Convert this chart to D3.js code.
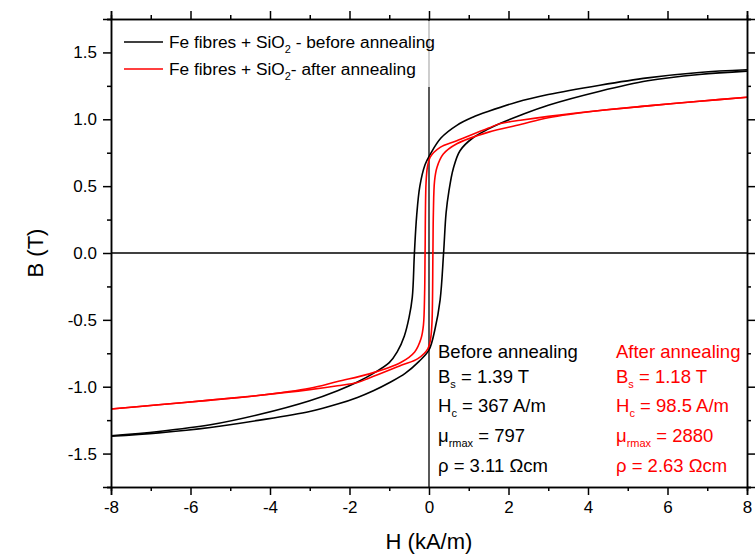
<!DOCTYPE html>
<html>
<head>
<meta charset="utf-8">
<script src="https://cdn.jsdelivr.net/npm/d3@7"></script>
<style>
  body { margin: 0; background: #fff; }
  svg { font-family: "Liberation Sans", Arial, sans-serif; }
  .axis path, .axis line { stroke: #000; stroke-width: 1.5; }
  .axis text { font-size: 17px; fill: #000; }
</style>
</head>
<body>
<div id="chart"></div>
<script>
// hysteresis loops, H in kA/m, B in T
var blackDown = [[8, 1.37], [6.8, 1.35], [5.5, 1.31], [4.3, 1.255], [3.0, 1.185], [2.2, 1.128], [1.5, 1.06],
  [1.1, 1.015], [0.7, 0.955], [0.3, 0.86], [0.03, 0.738], [-0.1, 0.66], [-0.23, 0.5], [-0.31, 0.28],
  [-0.367, 0], [-0.42, -0.33], [-0.5, -0.48], [-0.62, -0.62], [-0.8, -0.74], [-1.0, -0.82], [-1.4, -0.9],
  [-1.8, -0.965], [-2.3, -1.03], [-3.0, -1.105], [-4.3, -1.21], [-5.5, -1.285], [-6.8, -1.335], [-8, -1.367]];
var blackUp = [[-8, -1.37], [-6.8, -1.345], [-5.5, -1.305], [-4.3, -1.252], [-3.0, -1.185], [-2.3, -1.13],
  [-1.8, -1.08], [-1.4, -1.03], [-1.0, -0.97], [-0.6, -0.9], [-0.25, -0.81], [0.0, -0.725], [0.15, -0.57],
  [0.28, -0.35], [0.367, 0], [0.43, 0.3], [0.5, 0.46], [0.61, 0.63], [0.78, 0.765], [1.1, 0.86], [1.5, 0.928],
  [1.8, 0.97], [2.3, 1.03], [3.0, 1.105], [4.3, 1.21], [5.5, 1.288], [6.8, 1.335], [8, 1.36]];
var redDown = [[8, 1.165], [6.8, 1.135], [5.5, 1.1], [4.3, 1.066], [3.0, 1.022], [2.3, 0.993], [1.8, 0.968],
  [1.5, 0.935], [0.7, 0.84], [0.28, 0.79], [0.03, 0.717], [-0.04, 0.642], [-0.075, 0.52], [-0.0985, 0],
  [-0.11, -0.3], [-0.14, -0.54], [-0.2, -0.64], [-0.36, -0.74], [-0.7, -0.817], [-1.5, -0.904], [-2.3, -0.961],
  [-3.0, -1.012], [-4.3, -1.066], [-5.5, -1.1], [-6.8, -1.135], [-8, -1.167]];
var redUp = [[-8, -1.167], [-6.8, -1.135], [-5.5, -1.1], [-4.3, -1.066], [-3.0, -1.022], [-2.3, -0.993],
  [-1.8, -0.968], [-1.5, -0.935], [-0.7, -0.84], [-0.28, -0.79], [-0.03, -0.717], [0.04, -0.642], [0.075, -0.52],
  [0.0985, 0], [0.11, 0.3], [0.14, 0.54], [0.2, 0.64], [0.36, 0.74], [0.7, 0.817], [1.5, 0.904], [2.3, 0.961],
  [3.0, 1.012], [4.3, 1.066], [5.5, 1.1], [6.8, 1.135], [8, 1.165]];

var xTicks = [-8, -6, -4, -2, 0, 2, 4, 6, 8];
var xMinor = [-7, -5, -3, -1, 1, 3, 5, 7];
var yTicks = [-1.5, -1.0, -0.5, 0.0, 0.5, 1.0, 1.5];
var yMinor = [-1.75, -1.25, -0.75, -0.25, 0.25, 0.75, 1.25, 1.75];

var legendLabels = ['Fe fibres + SiO|2| - before annealing', 'Fe fibres + SiO|2|- after annealing'];
var beforeText = ['Before annealing', 'B|s| = 1.39 T', 'H|c| = 367 A/m', '\u03bc|rmax| = 797', '\u03c1 = 3.11 \u03a9cm'];
var afterText = ['After annealing', 'B|s| = 1.18 T', 'H|c| = 98.5 A/m', '\u03bc|rmax| = 2880', '\u03c1 = 2.63 \u03a9cm'];

var width = 756, height = 556;
var margin = { top: 19, right: 9, bottom: 69, left: 111 };
var w = width - margin.left - margin.right;
var h = height - margin.top - margin.bottom;

var svg = d3.select('#chart').append('svg')
  .attr('width', width)
  .attr('height', height);

var g = svg.append('g')
  .attr('transform', 'translate(' + margin.left + ',' + margin.top + ')');

var x = d3.scaleLinear().domain([-8, 8]).range([0, w]);
var y = d3.scaleLinear().domain([-1.75, 1.75]).range([h, 0]);

// zero lines
g.append('line').attr('x1', 0).attr('x2', w).attr('y1', y(0)).attr('y2', y(0))
  .attr('stroke', '#000').attr('stroke-width', 1.3);
g.append('line').attr('x1', x(0)).attr('x2', x(0)).attr('y1', 0).attr('y2', h)
  .attr('stroke', '#000').attr('stroke-width', 1.3);

var line = d3.line()
  .x(function(d) { return x(d[0]); })
  .y(function(d) { return y(d[1]); })
  .curve(d3.curveCatmullRom.alpha(0.5));

[[blackDown, '#000'], [blackUp, '#000'], [redDown, '#ff0000'], [redUp, '#ff0000']].forEach(function(s) {
  g.append('path')
    .datum(s[0])
    .attr('fill', 'none')
    .attr('stroke', s[1])
    .attr('stroke-width', 1.6)
    .attr('d', line);
});

// axes: major + minor ticks on all four sides, outward
var fmtY = function(d) { return d.toFixed(1); };
var fmtX = function(d) { return String(d); };

g.append('g').attr('class', 'axis').attr('transform', 'translate(0,' + h + ')')
  .call(d3.axisBottom(x).tickValues(xTicks).tickFormat(fmtX).tickSize(8).tickPadding(6));
g.append('g').attr('class', 'axis').attr('transform', 'translate(0,' + h + ')')
  .call(d3.axisBottom(x).tickValues(xMinor).tickFormat('').tickSize(4));
g.append('g').attr('class', 'axis')
  .call(d3.axisTop(x).tickValues(xTicks).tickFormat('').tickSize(8));
g.append('g').attr('class', 'axis')
  .call(d3.axisTop(x).tickValues(xMinor).tickFormat('').tickSize(4));

g.append('g').attr('class', 'axis')
  .call(d3.axisLeft(y).tickValues(yTicks).tickFormat(fmtY).tickSize(8).tickPadding(6));
g.append('g').attr('class', 'axis')
  .call(d3.axisLeft(y).tickValues(yMinor).tickFormat('').tickSize(4));
g.append('g').attr('class', 'axis').attr('transform', 'translate(' + w + ',0)')
  .call(d3.axisRight(y).tickValues(yTicks).tickFormat('').tickSize(8));
g.append('g').attr('class', 'axis').attr('transform', 'translate(' + w + ',0)')
  .call(d3.axisRight(y).tickValues(yMinor).tickFormat('').tickSize(4));

g.selectAll('.axis .domain').attr('stroke-width', 1.6);

// axis titles
svg.append('text')
  .attr('x', margin.left + x(0)).attr('y', 549)
  .attr('text-anchor', 'middle').attr('font-size', 22)
  .text('H (kA/m)');
svg.append('text')
  .attr('transform', 'translate(43,' + (margin.top + y(0)) + ') rotate(-90)')
  .attr('text-anchor', 'middle').attr('font-size', 22)
  .text('B (T)');

// text with |subscript| markup
function richText(sel, str, big, small) {
  var parts = str.split('|');
  parts.forEach(function(p, i) {
    var sub = i % 2 === 1;
    var t = sel.append('tspan').text(p);
    if (sub) t.attr('font-size', small).attr('dy', 5);
    else {
      t.attr('font-size', big);
      if (i > 0) t.attr('dy', -5);
    }
  });
}

// legend
var legend = g.append('g');
legend.append('rect')
  .attr('x', 6).attr('y', 2).attr('width', 325).attr('height', 66)
  .attr('fill', '#fff').attr('fill-opacity', 0.7);
[['#000', 0], ['#ff0000', 1]].forEach(function(d) {
  var ly = 23 + d[1] * 27;
  legend.append('line')
    .attr('x1', 13).attr('x2', 52).attr('y1', ly).attr('y2', ly)
    .attr('stroke', d[0]).attr('stroke-width', 1.6);
  var t = legend.append('text').attr('x', 58).attr('y', ly + 6).attr('fill', '#000');
  richText(t, legendLabels[d[1]], 17.3, 11);
});

// annotations
function block(lines, px, color) {
  lines.forEach(function(s, i) {
    var t = svg.append('text')
      .attr('x', px)
      .attr('y', [358, 383, 412, 442, 472][i])
      .attr('fill', color);
    richText(t, s, 18.5, 11);
  });
}
block(beforeText, 438, '#000');
block(afterText, 616, '#ff0000');
</script>
</body>
</html>
